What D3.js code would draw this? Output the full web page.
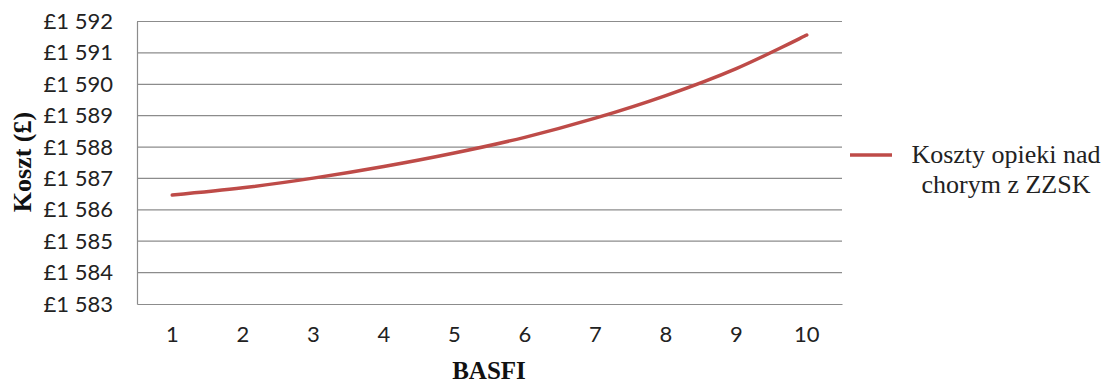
<!DOCTYPE html>
<html><head><meta charset="utf-8">
<script src="https://cdn.jsdelivr.net/npm/d3@7"></script>
<style>body{margin:0;background:#fff}svg{display:block}</style>
</head><body>
<svg id="c" width="1114" height="385"></svg>
<script>
const categories = ["1","2","3","4","5","6","7","8","9","10"];
const costValues = [1586.47, 1586.70, 1587.01, 1587.38, 1587.81, 1588.31, 1588.92, 1589.64, 1590.50, 1591.57];
const yTicks = [1583,1584,1585,1586,1587,1588,1589,1590,1591,1592];
const seriesName = ["Koszty opieki nad", "chorym z ZZSK"];
const xTitle = "BASFI";
const yTitle = "Koszt (£)";

const svg = d3.select("#c");
const L = 137, R = 842, T = 21.5, B = 304;
const x = d3.scaleBand().domain(categories).range([L, R]);
const y = d3.scaleLinear().domain([1583, 1592]).range([B, T]);
const fmt = v => "£" + String(v).replace(/^(\d)(\d{3})$/, "$1 $2");

// gridlines
svg.append("g").selectAll("line").data(yTicks.slice(1)).join("line")
  .attr("x1", L).attr("x2", R).attr("y1", d => y(d)).attr("y2", d => y(d))
  .attr("stroke", "#8c8c8c").attr("stroke-width", 1.2);

// y axis
const ya = svg.append("g").attr("transform", `translate(${L},0)`)
  .call(d3.axisLeft(y).tickValues(yTicks).tickFormat(fmt).tickSize(0).tickPadding(24));
ya.select(".domain").attr("stroke", "#8c8c8c").attr("stroke-width", 1.2);
ya.selectAll("text").attr("font-family", "Lato, 'Open Sans', sans-serif").attr("font-size", 22).attr("fill", "#222");

// x axis
const xa = svg.append("g").attr("transform", `translate(0,${B})`)
  .call(d3.axisBottom(x).tickSize(0).tickPadding(22));
xa.select(".domain").attr("stroke", "#8c8c8c").attr("stroke-width", 1.2);
xa.selectAll("text").attr("font-family", "Lato, 'Open Sans', sans-serif").attr("font-size", 22).attr("fill", "#222");

// line
const line = d3.line()
  .x((d, i) => x(categories[i]) + x.bandwidth() / 2)
  .y(d => y(d))
  .curve(d3.curveCatmullRom.alpha(0.5));
svg.append("path").datum(costValues).attr("d", line)
  .attr("fill", "none").attr("stroke", "#be4b48").attr("stroke-width", 3.5).attr("stroke-linecap", "round");

// titles
svg.append("text").attr("x", 489).attr("y", 379).attr("text-anchor", "middle")
  .attr("font-family", "'Liberation Serif', serif").attr("font-weight", "bold").attr("font-size", 25)
  .attr("fill", "#111").text(xTitle);
svg.append("text").attr("transform", "translate(31,162) rotate(-90)").attr("text-anchor", "middle")
  .attr("font-family", "'Liberation Serif', serif").attr("font-weight", "bold").attr("font-size", 26)
  .attr("fill", "#111").text(yTitle);

// legend
const lg = svg.append("g");
lg.append("line").attr("x1", 850).attr("x2", 892).attr("y1", 155).attr("y2", 155)
  .attr("stroke", "#be4b48").attr("stroke-width", 3.5);
lg.selectAll("text").data(seriesName).join("text")
  .attr("x", 1006).attr("y", (d, i) => 163 + i * 30).attr("text-anchor", "middle")
  .attr("font-family", "'Liberation Serif', serif").attr("font-size", 26).attr("fill", "#222")
  .text(d => d);
</script>
</body></html>
